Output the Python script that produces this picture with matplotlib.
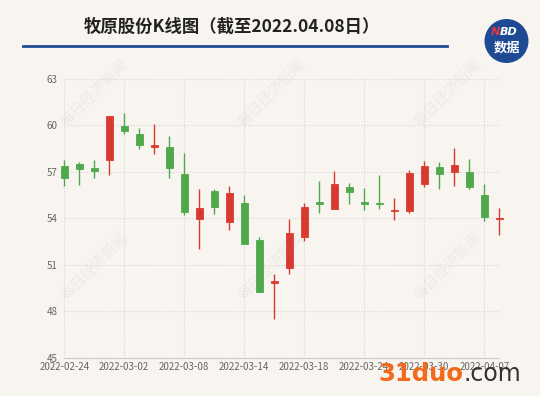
import matplotlib
matplotlib.use("Agg")
import matplotlib.pyplot as plt
from matplotlib.patches import Rectangle, Ellipse

plt.rcParams['font.family'] = ['Noto Sans CJK SC', 'DejaVu Sans']

# --- data ---
dates = ['2022-02-24', '2022-02-25', '2022-02-28', '2022-03-01', '2022-03-02',
         '2022-03-03', '2022-03-04', '2022-03-07', '2022-03-08', '2022-03-09',
         '2022-03-10', '2022-03-11', '2022-03-14', '2022-03-15', '2022-03-16',
         '2022-03-17', '2022-03-18', '2022-03-21', '2022-03-22', '2022-03-23',
         '2022-03-24', '2022-03-25', '2022-03-28', '2022-03-29', '2022-03-30',
         '2022-03-31', '2022-04-01', '2022-04-06', '2022-04-07', '2022-04-08']
opens = [57.37, 57.47, 57.21, 57.75, 59.92, 59.41, 58.59, 58.59, 56.85, 53.97,
         55.77, 53.73, 54.96, 52.59, 49.80, 50.78, 52.76, 55.02, 54.57, 56.01,
         55.02, 55.00, 54.46, 54.48, 56.18, 57.32, 56.96, 57.00, 55.52, 53.95]
closes = [56.57, 57.17, 57.04, 60.59, 59.65, 58.70, 58.74, 57.21, 54.42, 54.66,
          54.70, 55.65, 52.31, 49.22, 49.92, 53.06, 54.70, 54.91, 56.18, 55.67,
          54.94, 54.91, 54.55, 56.94, 57.34, 56.83, 57.41, 56.01, 54.10, 53.99]
highs = [57.75, 57.62, 57.75, 60.59, 60.76, 59.82, 60.05, 59.28, 58.18, 55.90,
         55.90, 56.05, 55.47, 52.76, 50.38, 53.92, 54.96, 56.42, 57.04, 56.25,
         55.97, 56.78, 55.28, 57.11, 57.71, 57.60, 58.53, 57.84, 56.18, 54.63]
lows = [56.08, 56.14, 56.61, 56.78, 59.43, 58.44, 58.12, 56.57, 54.20, 51.99,
        54.27, 53.24, 52.31, 49.22, 47.47, 50.38, 52.53, 54.31, 54.57, 54.89,
        54.53, 54.57, 53.88, 54.31, 55.99, 55.88, 56.10, 55.88, 53.82, 52.91]
y_ticks = [45, 48, 51, 54, 57, 60, 63]
label_every = 4

c_up = '#d93a30'
c_down = '#4fa84c'
c_bg = '#f8f5f0'
c_grid = '#d8d6d2'
c_text = '#666666'
c_navy = '#1f4e96'

fig = plt.figure(figsize=(5.4, 3.96), dpi=100)
fig.patch.set_facecolor(c_bg)
ax = fig.add_axes([0.119, 0.0967, 0.8056, 0.7046])
ax.set_facecolor(c_bg)

# candles (red = up, green = down)
body_w = 0.5
for i in range(len(dates)):
    o, c, h, l = opens[i], closes[i], highs[i], lows[i]
    col = c_up if c >= o else c_down
    ax.plot([i, i], [l, h], color=col, linewidth=1, zorder=3,
            solid_capstyle='butt', clip_on=False)
    bottom = min(o, c)
    height = max(abs(c - o), 0.08)
    ax.add_patch(Rectangle((i - body_w / 2, bottom), body_w, height, clip_on=False,
                           facecolor=col, edgecolor=col, linewidth=0.6, zorder=4))

ax.set_xlim(0, len(dates) - 1)
ax.set_ylim(45, 63)
ax.set_yticks(y_ticks)
ax.set_yticklabels([str(v) for v in y_ticks])
xt = list(range(0, len(dates), label_every))
ax.set_xticks(xt)
ax.set_xticklabels([dates[i] for i in xt])

ax.grid(True, color=c_grid, linestyle=(0, (1, 1.5)), linewidth=0.8, zorder=0)
for s in ['top', 'right', 'left']:
    ax.spines[s].set_visible(False)
ax.spines['bottom'].set_color('#cccccc')
ax.tick_params(axis='both', length=0, labelsize=7, colors=c_text)
ax.tick_params(axis='x', pad=3)
ax.tick_params(axis='y', pad=5)

# faint diagonal watermarks
for wx in [95, 272, 448]:
    for wy in [93, 266]:
        fig.text(wx / 540, 1 - wy / 396, '每日经济新闻', rotation=45, fontsize=10.5,
                 color='#a8a49e', alpha=0.13, ha='center', va='center', zorder=1)

# title and rule
fig.text(232 / 540, 1 - 27 / 396, '牧原股份K线图（截至2022.04.08日）', fontsize=12.5,
         fontweight='bold', color='#222222', ha='center', va='center')
fig.add_artist(plt.Line2D([23 / 540, 447 / 540], [1 - 45.7 / 396] * 2,
                          color=c_navy, linewidth=2, transform=fig.transFigure))

# NBD logo
fig.add_artist(Ellipse((506.5 / 540, 1 - 41 / 396), 44 / 540, 44 / 396,
                       transform=fig.transFigure, facecolor='#1d4a93', edgecolor='none'))
fig.text(500 / 540, 1 - 32 / 396, 'N', fontsize=8, fontweight='bold', color='#e8343a',
         ha='right', va='center', style='italic', family='DejaVu Sans')
fig.text(500 / 540, 1 - 32 / 396, 'BD', fontsize=8, fontweight='bold', color='white',
         ha='left', va='center', style='italic', family='DejaVu Sans')
fig.text(506.5 / 540, 1 - 48 / 396, '数据', fontsize=9.5, fontweight='bold', color='white',
         ha='center', va='center')

# site watermark
fig.text(378 / 540, 1 - 374 / 396, '31duo', fontsize=17.5, fontweight='heavy',
         color='#f26a1b', ha='left', va='center', family='DejaVu Sans')
fig.text(463 / 540, 1 - 374 / 396, '.com', fontsize=17, color='#333333',
         ha='left', va='center', family='DejaVu Sans')

fig.savefig('out.png', dpi=100, facecolor=c_bg)
